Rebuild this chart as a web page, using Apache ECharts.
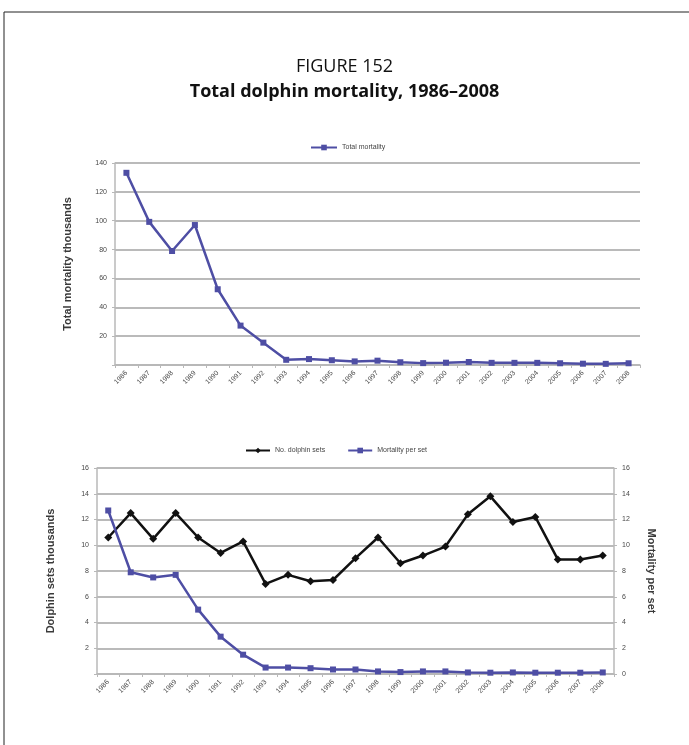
<!DOCTYPE html>
<html>
<head>
<meta charset="utf-8">
<script src="https://cdn.jsdelivr.net/npm/echarts@6/dist/echarts.min.js"></script>
<style>
  html, body { margin: 0; padding: 0; background: #fff; }
  #chart { width: 689px; height: 745px; }
</style>
</head>
<body>
<div id="chart"></div>
<script>
// Years shown on both category axes
const years = ['1986','1987','1988','1989','1990','1991','1992','1993','1994','1995','1996',
  '1997','1998','1999','2000','2001','2002','2003','2004','2005','2006','2007','2008'];

// Total dolphin mortality, thousands of animals
const totalMortality = [133.2, 99.2, 79.0, 97.0, 52.5, 27.3, 15.5, 3.6, 4.1, 3.3, 2.5,
  3.0, 1.9, 1.3, 1.6, 2.1, 1.5, 1.5, 1.5, 1.2, 0.9, 0.8, 1.2];

// Number of sets on dolphins, thousands
const dolphinSets = [10.6, 12.5, 10.5, 12.5, 10.6, 9.4, 10.3, 7.0, 7.7, 7.2, 7.3,
  9.0, 10.6, 8.6, 9.2, 9.9, 12.4, 13.8, 11.8, 12.2, 8.9, 8.9, 9.2];

// Dolphins killed per set
const mortalityPerSet = [12.7, 7.9, 7.5, 7.7, 5.0, 2.9, 1.5, 0.5, 0.5, 0.45, 0.35,
  0.35, 0.2, 0.15, 0.2, 0.2, 0.12, 0.1, 0.12, 0.1, 0.1, 0.1, 0.12];

const BLUE = '#4e4ea4';
const GRID_LINE = '#a3a3a3';
const AXIS_LINE = '#b8b8b8';
const LABEL = '#474747';
const SMALL = 'Liberation Sans, Arial, sans-serif';

function catAxis(gridIndex) {
  return {
    type: 'category', gridIndex: gridIndex, data: years, boundaryGap: true,
    axisLine: { lineStyle: { color: AXIS_LINE, width: 1.5 } },
    axisTick: { show: true, interval: 0, length: 3, lineStyle: { color: AXIS_LINE } },
    axisLabel: { interval: 0, rotate: 45, fontSize: 7, color: LABEL, fontFamily: SMALL, margin: 7 }
  };
}

function valAxis(gridIndex, max, interval, name, opts) {
  return Object.assign({
    type: 'value', gridIndex: gridIndex, min: 0, max: max, interval: interval,
    name: name, nameLocation: 'middle',
    nameTextStyle: { fontSize: 11, fontWeight: 'bold', color: '#3a3a3a', fontFamily: SMALL },
    axisLine: { show: true, lineStyle: { color: AXIS_LINE, width: 1.5 } },
    axisTick: { show: true, length: 3, lineStyle: { color: AXIS_LINE } },
    axisLabel: { fontSize: 7, color: LABEL, fontFamily: SMALL, margin: 8 },
    splitLine: { show: true, lineStyle: { color: GRID_LINE, width: 1.6 } }
  }, opts || {});
}

const chart = echarts.init(document.getElementById('chart'), null, { renderer: 'canvas' });

chart.setOption({
  backgroundColor: '#fff',
  animation: false,
  graphic: [
    { type: 'rect', shape: { x: 4, y: 12, width: 720, height: 800 },
      style: { fill: 'none', stroke: '#222', lineWidth: 1 }, silent: true },
    { type: 'text', left: 'center', top: 58,
      style: { text: 'FIGURE 152', font: '18px "Open Sans", sans-serif', fill: '#111' } },
    { type: 'text', left: 'center', top: 83,
      style: { text: 'Total dolphin mortality, 1986\u20132008', font: 'bold 18px "Open Sans", sans-serif', fill: '#111' } }
  ],
  legend: [
    { data: ['Total mortality'], left: 305, top: 139, itemWidth: 26, itemHeight: 7, itemGap: 20,
      textStyle: { fontSize: 7, color: '#444', fontFamily: SMALL } },
    { data: ['No. dolphin sets', 'Mortality per set'], left: 240, top: 442, itemWidth: 24, itemHeight: 7, itemGap: 22,
      textStyle: { fontSize: 7, color: '#444', fontFamily: SMALL } }
  ],
  grid: [
    { left: 115, right: 49, top: 163, bottom: 380 },
    { left: 97, right: 75, top: 468, bottom: 71 }
  ],
  xAxis: [catAxis(0), catAxis(1)],
  yAxis: [
    valAxis(0, 140, 20, 'Total mortality thousands', {
      nameGap: 42,
      axisLabel: { fontSize: 7, color: LABEL, fontFamily: SMALL, margin: 8,
        formatter: v => (v === 0 ? '' : String(v)) }
    }),
    valAxis(1, 16, 2, 'Dolphin sets thousands', {
      nameGap: 41,
      axisLabel: { fontSize: 7, color: LABEL, fontFamily: SMALL, margin: 8,
        formatter: v => (v === 0 ? '' : String(v)) }
    }),
    valAxis(1, 16, 2, 'Mortality per set', {
      position: 'right', nameGap: 32, nameRotate: -90,
      splitLine: { show: false }
    })
  ],
  series: [
    { name: 'Total mortality', type: 'line', xAxisIndex: 0, yAxisIndex: 0, data: totalMortality,
      symbol: 'rect', symbolSize: 6, color: BLUE,
      lineStyle: { width: 2.5, color: BLUE }, itemStyle: { color: BLUE } },
    { name: 'No. dolphin sets', type: 'line', xAxisIndex: 1, yAxisIndex: 1, data: dolphinSets,
      symbol: 'diamond', symbolSize: 8, color: '#111',
      lineStyle: { width: 2.5, color: '#111' }, itemStyle: { color: '#111' } },
    { name: 'Mortality per set', type: 'line', xAxisIndex: 1, yAxisIndex: 2, data: mortalityPerSet,
      symbol: 'rect', symbolSize: 6, color: BLUE,
      lineStyle: { width: 2.5, color: BLUE }, itemStyle: { color: BLUE } }
  ]
});
</script>
</body>
</html>
